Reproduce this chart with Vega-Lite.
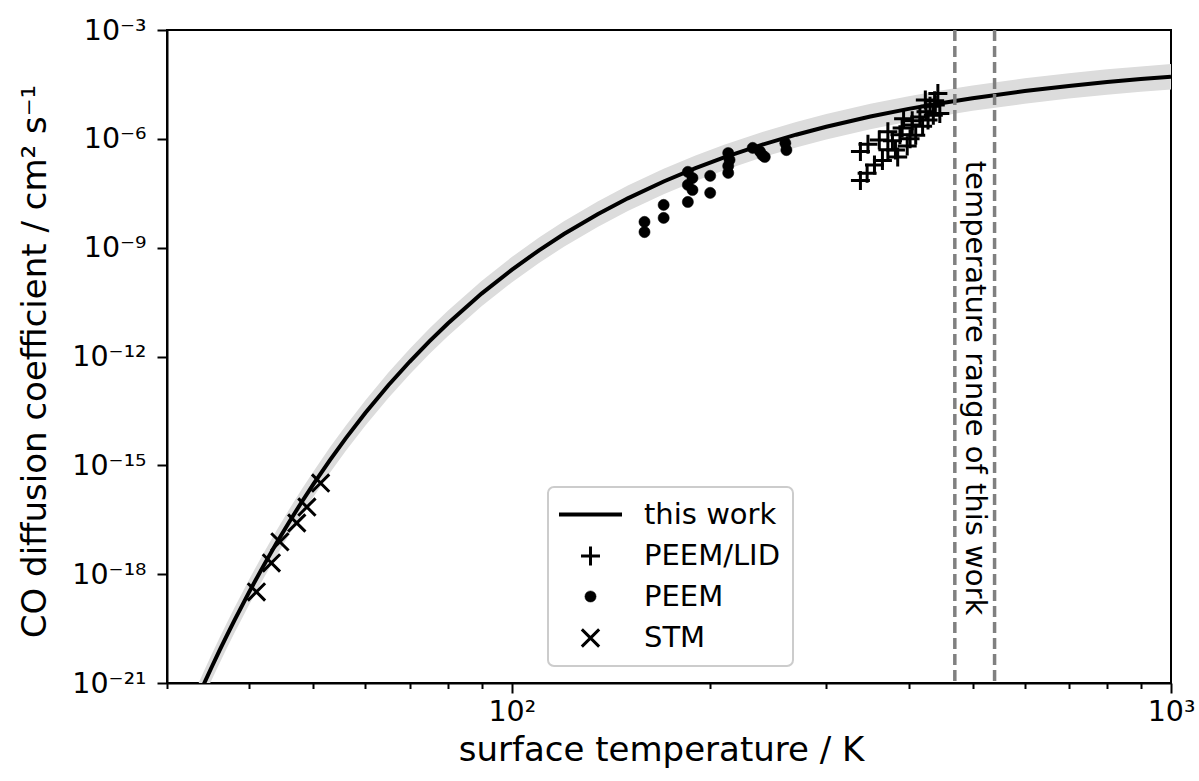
{
  "$schema": "https://vega.github.io/schema/vega-lite/v6.json",
  "width": 1004,
  "height": 653,
  "autosize": {"type": "none"},
  "padding": {"left": 167, "top": 30, "right": 28, "bottom": 98},
  "background": "white",
  "config": {
    "font": "DejaVu Sans",
    "view": {"stroke": "black", "strokeWidth": 2},
    "axis": {
      "grid": false,
      "domainColor": "black",
      "domainWidth": 2,
      "tickColor": "black",
      "tickWidth": 2,
      "labelColor": "black",
      "labelFont": "DejaVu Sans",
      "labelFontSize": 28.5,
      "titleFont": "DejaVu Sans",
      "titleFontSize": 34,
      "titleFontWeight": "normal",
      "titleColor": "black",
      "labelFlush": false,
      "labelOverlap": false
    },
    "legend": {
      "title": null,
      "orient": "none",
      "legendX": 381,
      "legendY": 457,
      "padding": 13,
      "strokeColor": "#cccccc",
      "strokeWidth": 2,
      "fillColor": "white",
      "cornerRadius": 6,
      "labelFont": "DejaVu Sans",
      "labelFontSize": 29,
      "labelColor": "black",
      "labelLimit": 400,
      "rowPadding": 10.5,
      "symbolOffset": 15,
      "labelOffset": 39
    }
  },
  "datasets": {
    "curve": [
      {"T": 33, "D": 2.42e-22, "hi": 5.41e-22, "lo": 1.08e-22},
      {"T": 34, "D": 8.13e-22, "hi": 1.82e-21, "lo": 3.63e-22},
      {"T": 35, "D": 2.55e-21, "hi": 5.71e-21, "lo": 1.14e-21},
      {"T": 36, "D": 7.52e-21, "hi": 1.68e-20, "lo": 3.35e-21},
      {"T": 37, "D": 2.09e-20, "hi": 4.67e-20, "lo": 9.33e-21},
      {"T": 38, "D": 5.51e-20, "hi": 1.23e-19, "lo": 2.46e-20},
      {"T": 40, "D": 3.30e-19, "hi": 7.40e-19, "lo": 1.48e-19},
      {"T": 42, "D": 1.67e-18, "hi": 3.73e-18, "lo": 7.46e-19},
      {"T": 44, "D": 7.29e-18, "hi": 1.63e-17, "lo": 3.26e-18},
      {"T": 46, "D": 2.80e-17, "hi": 6.26e-17, "lo": 1.25e-17},
      {"T": 48, "D": 9.62e-17, "hi": 2.15e-16, "lo": 4.29e-17},
      {"T": 50, "D": 2.99e-16, "hi": 6.70e-16, "lo": 1.34e-16},
      {"T": 53, "D": 1.40e-15, "hi": 3.13e-15, "lo": 6.25e-16},
      {"T": 56, "D": 5.53e-15, "hi": 1.24e-14, "lo": 2.47e-15},
      {"T": 60, "D": 2.80e-14, "hi": 6.26e-14, "lo": 1.25e-14},
      {"T": 65, "D": 1.61e-13, "hi": 3.60e-13, "lo": 7.18e-14},
      {"T": 70, "D": 7.16e-13, "hi": 1.60e-12, "lo": 3.20e-13},
      {"T": 75, "D": 2.62e-12, "hi": 5.87e-12, "lo": 1.17e-12},
      {"T": 80, "D": 8.15e-12, "hi": 1.82e-11, "lo": 3.64e-12},
      {"T": 90, "D": 5.41e-11, "hi": 1.21e-10, "lo": 2.42e-11},
      {"T": 100, "D": 2.45e-10, "hi": 5.50e-10, "lo": 1.10e-10},
      {"T": 110, "D": 8.47e-10, "hi": 1.90e-9, "lo": 3.78e-10},
      {"T": 120, "D": 2.38e-9, "hi": 5.32e-9, "lo": 1.06e-9},
      {"T": 135, "D": 8.37e-9, "hi": 1.87e-8, "lo": 3.73e-9},
      {"T": 150, "D": 2.29e-8, "hi": 5.14e-8, "lo": 1.03e-8},
      {"T": 170, "D": 6.68e-8, "hi": 1.50e-7, "lo": 2.99e-8},
      {"T": 190, "D": 1.55e-7, "hi": 3.48e-7, "lo": 6.93e-8},
      {"T": 210, "D": 3.08e-7, "hi": 6.89e-7, "lo": 1.37e-7},
      {"T": 240, "D": 6.92e-7, "hi": 1.55e-6, "lo": 3.09e-7},
      {"T": 270, "D": 1.30e-6, "hi": 2.91e-6, "lo": 5.80e-7},
      {"T": 300, "D": 2.15e-6, "hi": 4.82e-6, "lo": 9.62e-7},
      {"T": 350, "D": 4.11e-6, "hi": 9.20e-6, "lo": 1.84e-6},
      {"T": 400, "D": 6.68e-6, "hi": 1.50e-5, "lo": 2.99e-6},
      {"T": 450, "D": 9.77e-6, "hi": 2.19e-5, "lo": 4.36e-6},
      {"T": 500, "D": 1.32e-5, "hi": 2.96e-5, "lo": 5.90e-6},
      {"T": 600, "D": 2.08e-5, "hi": 4.65e-5, "lo": 9.29e-6},
      {"T": 700, "D": 2.88e-5, "hi": 6.44e-5, "lo": 1.29e-5},
      {"T": 800, "D": 3.67e-5, "hi": 8.22e-5, "lo": 1.64e-5},
      {"T": 900, "D": 4.44e-5, "hi": 9.93e-5, "lo": 1.98e-5},
      {"T": 1000, "D": 5.16e-5, "hi": 1.16e-4, "lo": 2.30e-5}
    ],
    "points": [
      {"T": 338, "D": 7.08e-8, "series": "PEEM/LID"},
      {"T": 346, "D": 1.12e-7, "series": "PEEM/LID"},
      {"T": 338, "D": 4.47e-7, "series": "PEEM/LID"},
      {"T": 347, "D": 7.08e-7, "series": "PEEM/LID"},
      {"T": 355, "D": 1.91e-7, "series": "PEEM/LID"},
      {"T": 361, "D": 9.33e-7, "series": "PEEM/LID"},
      {"T": 365, "D": 2.51e-7, "series": "PEEM/LID"},
      {"T": 372, "D": 5.01e-7, "series": "PEEM/LID"},
      {"T": 378, "D": 8.91e-7, "series": "PEEM/LID"},
      {"T": 382, "D": 4.90e-7, "series": "PEEM/LID"},
      {"T": 385, "D": 3.16e-7, "series": "PEEM/LID"},
      {"T": 388, "D": 1.29e-6, "series": "PEEM/LID"},
      {"T": 372, "D": 1.58e-6, "series": "PEEM/LID"},
      {"T": 391, "D": 2.00e-6, "series": "PEEM/LID"},
      {"T": 398, "D": 6.31e-7, "series": "PEEM/LID"},
      {"T": 402, "D": 1.00e-6, "series": "PEEM/LID"},
      {"T": 393, "D": 3.55e-6, "series": "PEEM/LID"},
      {"T": 405, "D": 3.16e-6, "series": "PEEM/LID"},
      {"T": 405, "D": 2.40e-6, "series": "PEEM/LID"},
      {"T": 410, "D": 1.26e-6, "series": "PEEM/LID"},
      {"T": 416, "D": 3.98e-6, "series": "PEEM/LID"},
      {"T": 420, "D": 2.24e-6, "series": "PEEM/LID"},
      {"T": 424, "D": 1.17e-5, "series": "PEEM/LID"},
      {"T": 425, "D": 5.62e-6, "series": "PEEM/LID"},
      {"T": 428, "D": 3.31e-6, "series": "PEEM/LID"},
      {"T": 431, "D": 7.94e-6, "series": "PEEM/LID"},
      {"T": 436, "D": 4.47e-6, "series": "PEEM/LID"},
      {"T": 439, "D": 8.51e-6, "series": "PEEM/LID"},
      {"T": 443, "D": 1.78e-5, "series": "PEEM/LID"},
      {"T": 446, "D": 5.01e-6, "series": "PEEM/LID"},
      {"T": 438, "D": 1.12e-5, "series": "PEEM/LID"},
      {"T": 159, "D": 5.13e-9, "series": "PEEM"},
      {"T": 159, "D": 2.69e-9, "series": "PEEM"},
      {"T": 170, "D": 1.51e-8, "series": "PEEM"},
      {"T": 170, "D": 6.61e-9, "series": "PEEM"},
      {"T": 185, "D": 1.23e-7, "series": "PEEM"},
      {"T": 188, "D": 8.32e-8, "series": "PEEM"},
      {"T": 185, "D": 5.37e-8, "series": "PEEM"},
      {"T": 188, "D": 3.89e-8, "series": "PEEM"},
      {"T": 185, "D": 1.82e-8, "series": "PEEM"},
      {"T": 200, "D": 9.55e-8, "series": "PEEM"},
      {"T": 200, "D": 3.24e-8, "series": "PEEM"},
      {"T": 213, "D": 1.15e-7, "series": "PEEM"},
      {"T": 213, "D": 4.07e-7, "series": "PEEM"},
      {"T": 214, "D": 2.63e-7, "series": "PEEM"},
      {"T": 213, "D": 1.78e-7, "series": "PEEM"},
      {"T": 232, "D": 5.62e-7, "series": "PEEM"},
      {"T": 240, "D": 3.55e-7, "series": "PEEM"},
      {"T": 238, "D": 4.47e-7, "series": "PEEM"},
      {"T": 242, "D": 3.16e-7, "series": "PEEM"},
      {"T": 261, "D": 4.90e-7, "series": "PEEM"},
      {"T": 260, "D": 7.59e-7, "series": "PEEM"},
      {"T": 41.0, "D": 3.24e-19, "series": "STM"},
      {"T": 43.2, "D": 2.04e-18, "series": "STM"},
      {"T": 44.5, "D": 7.76e-18, "series": "STM"},
      {"T": 47.2, "D": 2.57e-17, "series": "STM"},
      {"T": 48.9, "D": 7.08e-17, "series": "STM"},
      {"T": 51.3, "D": 3.24e-16, "series": "STM"}
    ],
    "range": [{"T": 470}, {"T": 540}],
    "note": [{"T": 504, "D": 1.36e-13, "label": "temperature range of this work"}]
  },
  "layer": [
    {
      "data": {"name": "curve"},
      "mark": {"type": "area", "color": "#dcdcdc", "clip": true},
      "encoding": {
        "x": {
          "field": "T", "type": "quantitative",
          "scale": {"type": "log", "domain": [30, 1000], "nice": false},
          "axis": {
            "values": [30, 40, 50, 60, 70, 80, 90, 100, 200, 300, 400, 500, 600, 700, 800, 900, 1000],
            "labelExpr": "datum.value == 100 ? '10²' : (datum.value == 1000 ? '10³' : '')",
            "tickSize": {"condition": {"test": "datum.value == 100 || datum.value == 1000", "value": 10}, "value": 5.5},
            "labelPadding": 4,
            "title": "surface temperature / K",
            "titleX": 494,
            "titleY": 67,
            "titleBaseline": "middle"
          }
        },
        "y": {
          "field": "hi", "type": "quantitative",
          "scale": {"type": "log", "domain": [1e-21, 1e-3], "nice": false},
          "axis": {
            "values": [1e-21, 1e-18, 1e-15, 1e-12, 1e-9, 1e-6, 1e-3],
            "labelExpr": "'10' + ['⁻²¹','⁻¹⁸','⁻¹⁵','⁻¹²','⁻⁹','⁻⁶','⁻³'][round((log(datum.value)/LN10 + 21)/3)]",
            "tickSize": 10,
            "labelPadding": 11,
            "title": "CO diffusion coefficient / cm² s⁻¹",
            "titleX": -132,
            "titleY": 331,
            "titleBaseline": "middle"
          }
        },
        "y2": {"field": "lo"}
      }
    },
    {
      "data": {"name": "curve"},
      "mark": {"type": "line", "color": "black", "strokeWidth": 4, "clip": true},
      "encoding": {
        "x": {"field": "T", "type": "quantitative", "scale": {"type": "log", "domain": [30, 1000], "nice": false}},
        "y": {"field": "D", "type": "quantitative", "scale": {"type": "log", "domain": [1e-21, 1e-3], "nice": false}}
      }
    },
    {
      "data": {"name": "range"},
      "mark": {"type": "rule", "color": "#808080", "strokeWidth": 3.5, "strokeDash": [11, 5]},
      "encoding": {
        "x": {"field": "T", "type": "quantitative", "scale": {"type": "log", "domain": [30, 1000], "nice": false}}
      }
    },
    {
      "data": {"name": "points"},
      "mark": {"type": "point", "filled": true, "opacity": 1},
      "encoding": {
        "x": {"field": "T", "type": "quantitative", "scale": {"type": "log", "domain": [30, 1000], "nice": false}},
        "y": {"field": "D", "type": "quantitative", "scale": {"type": "log", "domain": [1e-21, 1e-3], "nice": false}},
        "shape": {"field": "series", "type": "nominal",
          "scale": {"domain": ["this work", "PEEM/LID", "PEEM", "STM"], "range": ["M-3.7,0L3.7,0", "M-1,0L1,0M0,-1L0,1", "circle", "M-1,-1L1,1M-1,1L1,-1"]}},
        "fill": {"field": "series", "type": "nominal",
          "scale": {"domain": ["this work", "PEEM/LID", "PEEM", "STM"], "range": ["transparent", "transparent", "black", "transparent"]}},
        "stroke": {"field": "series", "type": "nominal",
          "scale": {"domain": ["this work", "PEEM/LID", "PEEM", "STM"], "range": ["black", "black", "black", "black"]}},
        "strokeWidth": {"field": "series", "type": "nominal",
          "scale": {"type": "ordinal", "domain": ["this work", "PEEM/LID", "PEEM", "STM"], "range": [4, 3, 0.5, 3]}},
        "size": {"field": "series", "type": "nominal",
          "scale": {"type": "ordinal", "domain": ["this work", "PEEM/LID", "PEEM", "STM"], "range": [290, 360, 125, 300]}}
      }
    },
    {
      "data": {"name": "note"},
      "mark": {"type": "text", "angle": 90, "fontSize": 29, "align": "center", "baseline": "middle", "color": "black", "font": "DejaVu Sans"},
      "encoding": {
        "x": {"field": "T", "type": "quantitative", "scale": {"type": "log", "domain": [30, 1000], "nice": false}},
        "y": {"field": "D", "type": "quantitative", "scale": {"type": "log", "domain": [1e-21, 1e-3], "nice": false}},
        "text": {"field": "label"}
      }
    }
  ]
}
